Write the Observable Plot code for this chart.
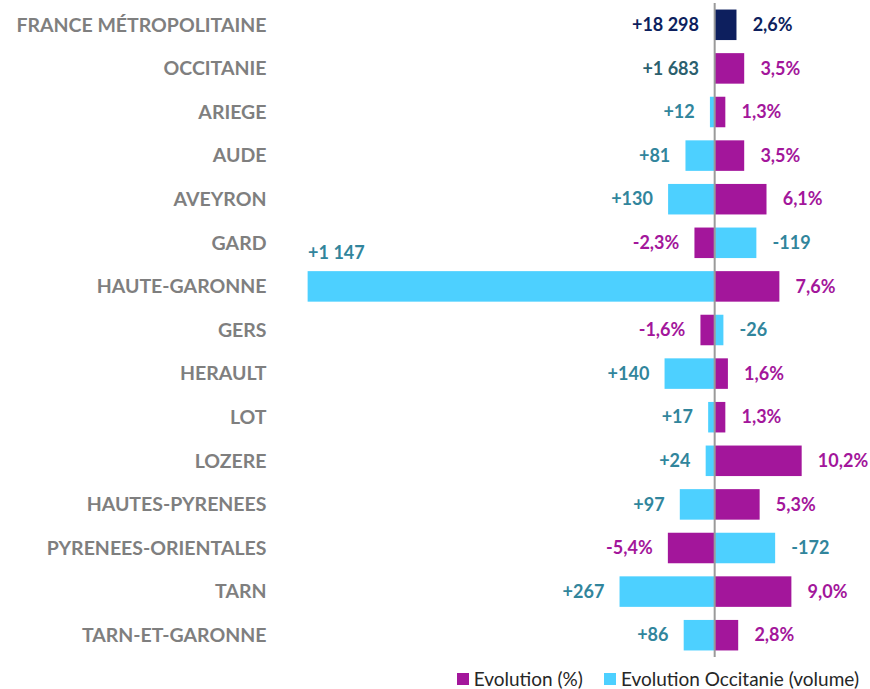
<!DOCTYPE html>
<html>
<head>
<meta charset="utf-8">
<script src="https://cdn.jsdelivr.net/npm/d3@7"></script>
<script src="https://cdn.jsdelivr.net/npm/@observablehq/plot@0.6"></script>
<style>
  html, body { margin: 0; padding: 0; background: #fff; }
  #chart { width: 870px; }
  .legend { display: flex; justify-content: flex-end; align-items: center; height: 43px; padding-right: 11px; font-family: Lato, "Open Sans", sans-serif; font-size: 19px; color: #262626; }
  .legend .item { display: flex; align-items: center; margin-left: 21px; }
  .legend .sw { width: 12px; height: 12px; margin-right: 5px; }
</style>
</head>
<body>
<div id="chart"></div>
<script>
const categories = ["FRANCE MÉTROPOLITAINE","OCCITANIE","ARIEGE","AUDE","AVEYRON","GARD","HAUTE-GARONNE","GERS","HERAULT","LOT","LOZERE","HAUTES-PYRENEES","PYRENEES-ORIENTALES","TARN","TARN-ET-GARONNE"];
const evolutionPct = [2.6, 3.5, 1.3, 3.5, 6.1, -2.3, 7.6, -1.6, 1.6, 1.3, 10.2, 5.3, -5.4, 9.0, 2.8];
const evolutionVolume = [18298, 1683, 12, 81, 130, -119, 1147, -26, 140, 17, 24, 97, -172, 267, 86];
const totals = ["FRANCE MÉTROPOLITAINE", "OCCITANIE"];
const legendLabels = ["Evolution (%)", "Evolution Occitanie (volume)"];

const PURPLE = "#A3169B", CYAN = "#4DD0FF", NAVY = "#0D1F5E";
const TEAL = "#31859C", DARKTEAL = "#2B5F6E";
const K = 1 / 24.2;          // volume -> percent-axis units (reversed secondary axis)
const GAP = 15.7 / 8.58;     // label offset, in axis units

const rows = categories.map((c, i) => ({
  cat: c, pct: evolutionPct[i], vol: evolutionVolume[i],
  total: totals.includes(c), france: i === 0
}));

const fmtVol = v => (v > 0 ? "+" : "-") + d3.format(",")(Math.abs(v)).replace(/,/g, " ");
const fmtPct = v => d3.format(".1f")(v).replace(".", ",").replace("−", "-") + "%";

const volRows = rows.filter(d => !d.total);
const volX = d => d.total ? 0 : -d.vol * K;
const bigVol = volRows.filter(d => d.cat === "HAUTE-GARONNE");
const volLabelRows = rows.filter(d => d.cat !== "HAUTE-GARONNE");
const volFill = d => d.france ? NAVY : d.total ? DARKTEAL : TEAL;
const pctFill = d => d.france ? NAVY : PURPLE;

const chart = Plot.plot({
  width: 870, height: 657,
  marginLeft: 275, marginRight: 10, marginTop: 3, marginBottom: 0,
  style: { fontFamily: "Lato, 'Open Sans', sans-serif", fontWeight: "bold", fontSize: "18px", background: "#fff" },
  x: { domain: [-51.2, 17.0], axis: null },
  y: { domain: categories, paddingInner: 0.3, paddingOuter: 0.15, round: false, axis: null },
  marks: [
    Plot.axisY({ tickSize: 0, tickPadding: 9, label: null, color: "#7F7F7F", fontSize: 19.5, fontWeight: "bold", letterSpacing: "1.1px" }),
    Plot.barX(volRows, { y: "cat", x1: 0, x2: d => -d.vol * K, fill: CYAN }),
    Plot.barX(rows, { y: "cat", x1: 0, x2: "pct", fill: pctFill }),
    Plot.text(rows.filter(d => d.pct >= 0), {
      y: "cat", x: d => d.pct + GAP, text: d => fmtPct(d.pct),
      textAnchor: "start", fill: pctFill, fontSize: 18
    }),
    Plot.text(rows.filter(d => d.pct < 0), {
      y: "cat", x: d => d.pct - GAP, text: d => fmtPct(d.pct),
      textAnchor: "end", fill: pctFill, fontSize: 18
    }),
    Plot.text(volLabelRows.filter(d => d.vol >= 0), {
      y: "cat", x: d => volX(d) - GAP, text: d => fmtVol(d.vol),
      textAnchor: "end", fill: volFill, fontSize: 18
    }),
    Plot.text(volLabelRows.filter(d => d.vol < 0), {
      y: "cat", x: d => volX(d) + GAP, text: d => fmtVol(d.vol),
      textAnchor: "start", fill: volFill, fontSize: 18
    }),
    Plot.text(bigVol, {
      y: "cat", x: d => -d.vol * K, text: d => fmtVol(d.vol),
      textAnchor: "start", dy: -34, fill: TEAL, fontSize: 18
    }),
    Plot.ruleX([0], { stroke: "#9A9A9A", strokeWidth: 2 })
  ]
});
document.getElementById("chart").append(chart);

const legend = document.createElement("div");
legend.className = "legend";
[[legendLabels[0], PURPLE], [legendLabels[1], CYAN]].forEach(([t, c]) => {
  const it = document.createElement("div"); it.className = "item";
  const sw = document.createElement("div"); sw.className = "sw"; sw.style.background = c;
  const tx = document.createElement("span"); tx.textContent = t;
  it.append(sw, tx); legend.append(it);
});
document.getElementById("chart").append(legend);
</script>
</body>
</html>
